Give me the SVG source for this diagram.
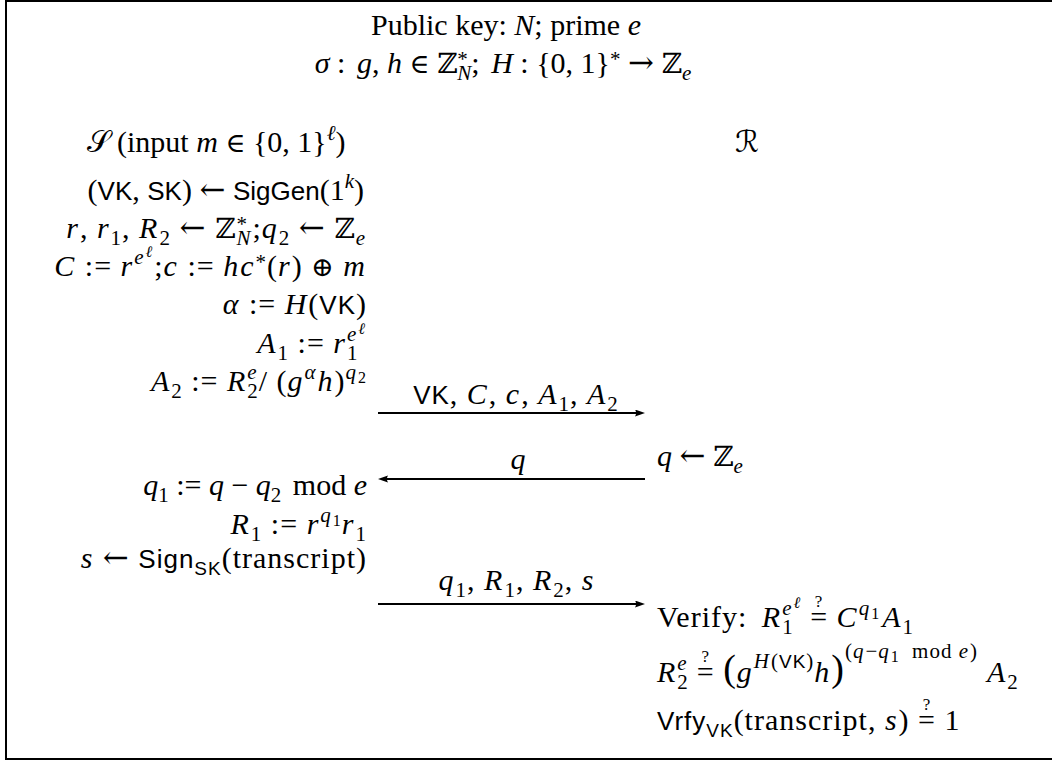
<svg xmlns="http://www.w3.org/2000/svg" width="1052" height="761" viewBox="0 0 1052 761">
<style>
text { font-family: "Liberation Serif", serif; font-size: 30px; fill: #000; }
.i { font-style: italic; }
.mx { letter-spacing: 1px; }
.mx .i { letter-spacing: 2px; }
.sf { font-family: "Liberation Sans", sans-serif; font-size: 26px; font-style: normal; }
.sfs { font-family: "Liberation Sans", sans-serif; font-size: 19px; font-style: normal; }
.bb { font-family: "DejaVu Serif", serif; font-size: 28px; font-style: normal; }
.m { font-family: "DejaVu Serif", serif; font-size: 27px; font-style: normal; }
.ar { font-family: "DejaVu Serif", serif; font-size: 31px; font-style: normal; }
.cal { font-family: "DejaVu Serif", "DejaVu Sans", "Noto Sans", serif; font-size: 30px; }
.sc { font-size: 21px; }
.ss { font-size: 16px; }
.q { font-size: 17px; font-style: normal; }
.big { font-size: 38px; font-style: normal; }
.frame { fill: none; stroke: #000; stroke-width: 2; }
.conn line { stroke: #000; stroke-width: 2; }
</style>
<defs>
<marker id="ah" markerUnits="userSpaceOnUse" markerWidth="12" markerHeight="9" refX="6" refY="3.5" orient="auto">
<path d="M0,0 L10,3.5 L0,7 Q2.2,3.5 0,0 Z" fill="#000"/>
</marker>
</defs>
<rect class="frame" x="6" y="1" width="1052" height="758"/>
<g id="header">
<text x="506" y="35" text-anchor="middle">Public key: <tspan class="i">N</tspan>; prime <tspan class="i">e</tspan></text>
<text x="503" y="73" text-anchor="middle"><tspan class="i">σ</tspan> : <tspan class="i" dx="4">g</tspan>, <tspan class="i">h</tspan> <tspan class="m">∈</tspan> <tspan class="bb">ℤ</tspan><tspan class="sc" dy="-7">*</tspan><tspan class="sc i" dx="-10.5" dy="14">N</tspan><tspan dy="-7">; <tspan class="i" dx="4">H</tspan> : {0, 1}</tspan><tspan class="sc" dy="-7">*</tspan><tspan dy="7"> <tspan class="ar">→</tspan> <tspan class="bb">ℤ</tspan></tspan><tspan class="sc i" dy="7">e</tspan></text>
</g>
<g id="sender">
<text x="216" y="152" text-anchor="middle"><tspan class="cal">𝒮</tspan> (input <tspan class="i">m</tspan> <tspan class="m">∈</tspan> {0, 1}<tspan class="sc i" dy="-12">ℓ</tspan><tspan dy="12">)</tspan></text>
<text x="364" y="200" text-anchor="end">(<tspan class="sf">VK</tspan>, <tspan class="sf">SK</tspan>) <tspan class="ar">←</tspan> <tspan class="sf">SigGen</tspan>(1<tspan class="sc i" dy="-12">k</tspan><tspan dy="12">)</tspan></text>
<text class="mx" x="367" y="238" text-anchor="end"><tspan class="i">r</tspan>, <tspan class="i">r</tspan><tspan class="sc" dy="7">1</tspan><tspan dy="-7">, </tspan><tspan class="i">R</tspan><tspan class="sc" dy="7">2</tspan><tspan dy="-7"> <tspan class="ar">←</tspan> </tspan><tspan class="bb">ℤ</tspan><tspan class="sc" dy="-7">*</tspan><tspan class="sc i" dx="-11.5" dy="14">N</tspan><tspan dy="-7">;</tspan><tspan class="i">q</tspan><tspan class="sc" dy="7">2</tspan><tspan dy="-7"> <tspan class="ar">←</tspan> </tspan><tspan class="bb">ℤ</tspan><tspan class="sc i" dy="7">e</tspan></text>
<text class="mx" x="367" y="276" text-anchor="end"><tspan class="i">C</tspan> := <tspan class="i">r</tspan><tspan class="sc i" dy="-12">e</tspan><tspan class="ss i" dy="-7">ℓ</tspan><tspan dy="19">;</tspan><tspan class="i">c</tspan> := <tspan class="i">hc</tspan><tspan class="sc" dy="-7">*</tspan><tspan dy="7">(</tspan><tspan class="i">r</tspan>) <tspan class="m">⊕</tspan> <tspan class="i">m</tspan></text>
<text class="mx" x="367" y="314" text-anchor="end"><tspan class="i">α</tspan> := <tspan class="i">H</tspan>(<tspan class="sf">VK</tspan>)</text>
<text class="mx" x="367" y="353" text-anchor="end"><tspan class="i">A</tspan><tspan class="sc" dy="7">1</tspan><tspan dy="-7"> := </tspan><tspan class="i">r</tspan><tspan class="sc" dy="7">1</tspan><tspan class="sc i" dx="-11.5" dy="-19">e</tspan><tspan class="ss i" dy="-7">ℓ</tspan></text>
<text class="mx" x="367" y="391" text-anchor="end"><tspan class="i">A</tspan><tspan class="sc" dy="7">2</tspan><tspan dy="-7"> := </tspan><tspan class="i">R</tspan><tspan class="sc" dy="7">2</tspan><tspan class="sc i" dx="-11.5" dy="-19">e</tspan><tspan dy="12">/ (</tspan><tspan class="i">g</tspan><tspan class="sc i" dy="-12">α</tspan><tspan class="i" dy="12">h</tspan>)<tspan class="sc i" dy="-12">q</tspan><tspan class="ss" dy="4">2</tspan></text>
<text x="367" y="495" text-anchor="end"><tspan class="i">q</tspan><tspan class="sc" dy="7">1</tspan><tspan dy="-7"> := </tspan><tspan class="i">q</tspan> − <tspan class="i">q</tspan><tspan class="sc" dy="7">2</tspan><tspan dy="-7" dx="4"> mod </tspan><tspan class="i">e</tspan></text>
<text class="mx" x="367" y="534" text-anchor="end"><tspan class="i">R</tspan><tspan class="sc" dy="7">1</tspan><tspan dy="-7"> := </tspan><tspan class="i">r</tspan><tspan class="sc i" dy="-12">q</tspan><tspan class="ss" dy="4">1</tspan><tspan class="i" dy="8">r</tspan><tspan class="sc" dy="7">1</tspan></text>
<text class="mx" x="367" y="568" text-anchor="end"><tspan class="i">s</tspan> <tspan class="ar">←</tspan> <tspan class="sf">Sign</tspan><tspan class="sfs" dy="7">SK</tspan><tspan dy="-7">(transcript)</tspan></text>
</g>
<g id="receiver">
<text x="747" y="152" text-anchor="middle" class="cal">ℛ</text>
<text x="657" y="466"><tspan class="i">q</tspan> <tspan class="ar">←</tspan> <tspan class="bb">ℤ</tspan><tspan class="sc i" dy="7">e</tspan></text>
<text class="mx" x="657" y="627">Verify: <tspan class="i" dx="6">R</tspan><tspan class="sc" dy="7">1</tspan><tspan class="sc i" dx="-11.5" dy="-19">e</tspan><tspan class="ss i" dy="-7">ℓ</tspan><tspan dy="19" dx="8">=</tspan><tspan class="q" dx="-13.2" dy="-20">?</tspan><tspan dx="4.7" dy="20"> </tspan><tspan class="i">C</tspan><tspan class="sc i" dy="-12">q</tspan><tspan class="ss" dy="4">1</tspan><tspan class="i" dy="8" dx="2">A</tspan><tspan class="sc" dy="7">1</tspan></text>
<text class="mx" x="657" y="682"><tspan class="i">R</tspan><tspan class="sc" dy="7">2</tspan><tspan class="sc i" dx="-11.5" dy="-19">e</tspan><tspan dy="12" dx="8">=</tspan><tspan class="q" dx="-13.2" dy="-20">?</tspan><tspan dx="4.7" dy="20"> </tspan><tspan class="big" dy="-1">(</tspan><tspan class="i" dy="1">g</tspan><tspan class="sc i" dy="-14">H</tspan><tspan class="sc">(</tspan><tspan class="sfs">VK</tspan><tspan class="sc">)</tspan><tspan class="i" dy="14">h</tspan><tspan class="big" dy="-1">)</tspan><tspan class="sc" dy="-23">(<tspan class="i">q</tspan>−<tspan class="i">q</tspan></tspan><tspan class="ss" dy="4">1</tspan><tspan class="sc" dy="-4" dx="6"> mod <tspan class="i">e</tspan>)</tspan><tspan class="i" dy="24" dx="9">A</tspan><tspan class="sc" dy="7">2</tspan></text>
<text class="mx" x="657" y="730"><tspan class="sf">Vrfy</tspan><tspan class="sfs" dy="7">VK</tspan><tspan dy="-7">(transcript, </tspan><tspan class="i">s</tspan><tspan>) =</tspan><tspan class="q" dx="-13.2" dy="-20">?</tspan><tspan dx="4.7" dy="20"> 1</tspan></text>
</g>
<g id="connectors" class="conn">
<line x1="378" y1="413" x2="641" y2="413" marker-end="url(#ah)"/>
<line x1="645" y1="479" x2="382" y2="479" marker-end="url(#ah)"/>
<line x1="378" y1="604" x2="641" y2="604" marker-end="url(#ah)"/>
<text class="mx" x="516" y="404" text-anchor="middle"><tspan class="sf">VK</tspan>, <tspan class="i">C</tspan>, <tspan class="i">c</tspan>, <tspan class="i">A</tspan><tspan class="sc" dy="7">1</tspan><tspan dy="-7">, </tspan><tspan class="i">A</tspan><tspan class="sc" dy="7">2</tspan></text>
<text x="518" y="469" text-anchor="middle" class="i">q</text>
<text class="mx" x="517" y="590" text-anchor="middle"><tspan class="i">q</tspan><tspan class="sc" dy="7">1</tspan><tspan dy="-7">, </tspan><tspan class="i">R</tspan><tspan class="sc" dy="7">1</tspan><tspan dy="-7">, </tspan><tspan class="i">R</tspan><tspan class="sc" dy="7">2</tspan><tspan dy="-7">, </tspan><tspan class="i">s</tspan></text>
</g>
</svg>
